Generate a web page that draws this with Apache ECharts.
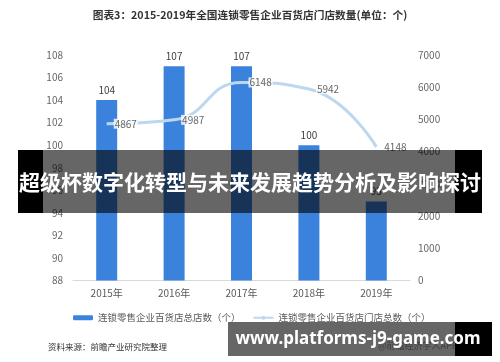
<!DOCTYPE html>
<html>
<head>
<meta charset="utf-8">
<script src="https://cdn.jsdelivr.net/npm/echarts@6/dist/echarts.min.js"></script>
<style>html,body{margin:0;padding:0;background:#fff;}#c{width:500px;height:362px;}</style>
</head>
<body>
<div id="c"></div>
<script>
var categories = ['2015年', '2016年', '2017年', '2018年', '2019年'];
var totalStores = [104, 107, 107, 100, 95];
var branchStores = [4867, 4987, 6148, 5942, 4148];
var seriesNames = ['连锁零售企业百货店总店数（个）', '连锁零售企业百货店门店总数（个）'];
var titleText = '图表3：2015-2019年全国连锁零售企业百货店门店数量(单位：个)';
var sourceText = '资料来源：前瞻产业研究院整理';
var bannerText = '超级杯数字化转型与未来发展趋势分析及影响探讨';
var urlText = 'www.platforms-j9-game.com';

var FONT = '"Noto Sans CJK SC", "Noto Sans", sans-serif';
var chart = echarts.init(document.getElementById('c'));
chart.setOption({
  animation: false,
  backgroundColor: '#fff',
  textStyle: { fontFamily: FONT },
  title: {
    text: titleText, left: 'center', top: 5,
    textStyle: { fontSize: 10.7, fontWeight: 'bold', color: '#333', fontFamily: FONT }
  },
  grid: { left: 73, right: 90, top: 55, bottom: 81.5 },
  legend: {
    left: 68, top: 308, itemWidth: 20, itemHeight: 5, itemGap: 12,
    textStyle: { fontSize: 9.5, color: '#595959', fontFamily: FONT },
    data: seriesNames
  },
  xAxis: {
    type: 'category', data: categories,
    axisLine: { lineStyle: { color: '#d9d9d9' } },
    axisTick: { show: false },
    axisLabel: { color: '#595959', fontSize: 10, margin: 8 }
  },
  yAxis: [
    { type: 'value', min: 88, max: 108, interval: 2,
      splitLine: { show: false }, axisLine: { show: false }, axisTick: { show: false },
      axisLabel: { color: '#666', fontSize: 10, margin: 10 } },
    { type: 'value', min: 0, max: 7000, interval: 1000,
      splitLine: { show: false }, axisLine: { show: false }, axisTick: { show: false },
      axisLabel: { color: '#666', fontSize: 10, margin: 8, formatter: function (v) { return String(v); } } }
  ],
  series: [
    { name: seriesNames[0], type: 'bar', data: totalStores, barWidth: 21,
      itemStyle: { color: '#3b82dd' },
      label: { show: true, position: 'top', color: '#404040', fontSize: 10, distance: 5 } },
    { name: seriesNames[1], type: 'line', yAxisIndex: 1, data: branchStores, smooth: true,
      symbol: 'none', z: 5,
      lineStyle: { color: '#bdd7ee', width: 3 }, itemStyle: { color: '#bdd7ee' } },
    { name: 'lineLabels', type: 'scatter', yAxisIndex: 1, data: branchStores,
      symbolSize: 0, z: 6, silent: true,
      label: { show: true, position: 'right', color: '#404040', fontSize: 10, distance: 7,
               backgroundColor: '#fff', padding: [0, 1] } }
  ],
  graphic: [
    { type: 'text', left: 48, top: 343, z: 1,
      style: { text: sourceText, fontSize: 8.5, fill: '#333', fontFamily: FONT } },
    { type: 'text', left: 378, top: 341, z: 1,
      style: { text: '@前瞻经济学人APP', fontSize: 9, fill: '#999', fontFamily: FONT } },
    { type: 'rect', shape: { x: 18, y: 150, width: 464, height: 63 }, z: 100,
      style: { fill: 'rgba(0,0,0,0.6)' } },
    { type: 'rect', shape: { x: 18, y: 150, width: 25, height: 63 }, z: 101,
      style: { fill: '#000' } },
    { type: 'rect', shape: { x: 455, y: 150, width: 27, height: 63 }, z: 101,
      style: { fill: '#000' } },
    { type: 'text', x: 250, y: 182, z: 102,
      style: { text: bannerText, fontSize: 21, fontWeight: 'bold', fill: '#fff', fontFamily: FONT,
               align: 'center', verticalAlign: 'middle' } },
    { type: 'rect', shape: { x: 228, y: 322, width: 264, height: 34 }, z: 100,
      style: { fill: 'rgba(0,0,0,0.6)' } },
    { type: 'rect', shape: { x: 455, y: 322, width: 37, height: 34 }, z: 101,
      style: { fill: '#000' } },
    { type: 'text', x: 358, y: 339, z: 102,
      style: { text: urlText, fontSize: 17, fontWeight: 'bold', fill: '#fff', fontFamily: '"Noto Sans", "Open Sans", sans-serif',
               align: 'center', verticalAlign: 'middle' } }
  ]
});
</script>
</body>
</html>
